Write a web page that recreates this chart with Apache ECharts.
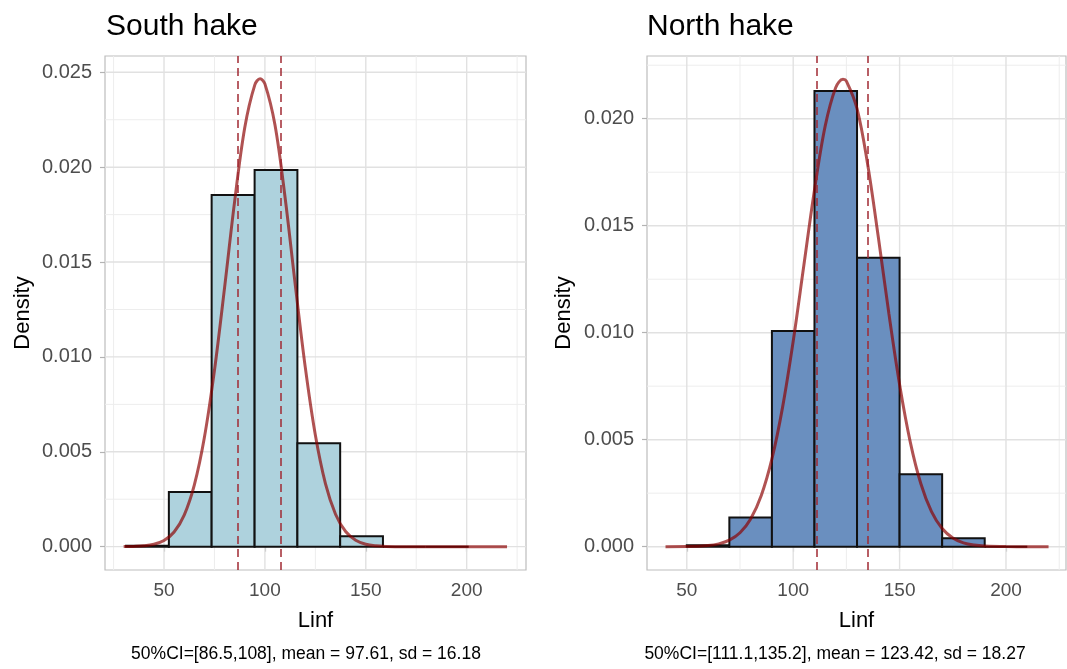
<!DOCTYPE html>
<html>
<head>
<meta charset="utf-8">
<script src="https://cdn.jsdelivr.net/npm/echarts@6/dist/echarts.min.js"></script>
<style>
  html, body { margin: 0; padding: 0; background: #ffffff; }
  #chart { width: 1067px; height: 669px; }
</style>
</head>
<body>
<div id="chart"></div>
<script>
// ---- South hake: Linf histogram (density scale) ----
const southEdges = [31.2, 52.4, 73.6, 94.9, 116.1, 137.3, 158.5, 179.7, 201.0];
const southDensity = [0.00005, 0.00288, 0.01853, 0.01985, 0.00545, 0.00055, 0, 0];
// fitted normal curve (x, density)
const southCurveX = [30, 35, 40, 45, 50, 55, 60, 65, 70, 75, 80, 85, 90, 95, 97.6, 100, 105, 110, 115, 120, 125, 130, 135, 140, 145, 150, 155, 160, 170, 180, 190, 200, 210, 220];
const southCurveY = [0.000004, 0.000015, 0.000043, 0.000125, 0.000325, 0.00077, 0.00166, 0.00324, 0.00575, 0.00929, 0.01364, 0.0182, 0.02208, 0.02434, 0.02466, 0.02439, 0.02222, 0.0184, 0.01384, 0.00946, 0.00588, 0.00332, 0.00171, 0.000797, 0.000338, 0.00013, 0.000046, 0.000015, 0.000001, 0, 0, 0, 0, 0];
const southCI = [86.5, 108];
const southCaption = '50%CI=[86.5,108], mean = 97.61, sd = 16.18';

// ---- North hake ----
const northEdges = [50, 70, 90, 110, 130, 150, 170, 190, 210];
const northDensity = [0.00007, 0.00136, 0.01008, 0.02129, 0.0135, 0.00339, 0.00039, 0];
const northCurveX = [40, 50, 60, 65, 70, 75, 80, 85, 90, 95, 100, 105, 110, 115, 120, 123.4, 125, 130, 135, 140, 145, 150, 155, 160, 165, 170, 175, 180, 185, 190, 200, 210, 220];
const northCurveY = [0.000001, 0.000007, 0.000053, 0.000131, 0.000304, 0.000651, 0.001295, 0.002393, 0.0041, 0.00651, 0.0096, 0.01314, 0.01667, 0.01964, 0.02146, 0.02184, 0.02176, 0.02047, 0.01786, 0.01447, 0.01087, 0.00758, 0.0049, 0.00294, 0.00164, 0.000847, 0.000406, 0.00018, 0.000075, 0.000029, 0.000004, 0, 0];
const northCI = [111.1, 135.2];
const northCaption = '50%CI=[111.1,135.2], mean = 123.42, sd = 18.27';

// tick labels and grid lines
const xMajor = [50, 100, 150, 200];
const xMinor = [25, 75, 125, 175, 225];
const southYMajor = [0, 0.005, 0.01, 0.015, 0.02, 0.025];
const southYMinor = [0.0025, 0.0075, 0.0125, 0.0175, 0.0225];
const northYMajor = [0, 0.005, 0.01, 0.015, 0.02];
const northYMinor = [0.0025, 0.0075, 0.0125, 0.0175, 0.0225];

const panels = [
  { left: 105, width: 421, xMin: 20.75, xMax: 229.4, yMin: -0.00123, yMax: 0.02586,
    edges: southEdges, dens: southDensity, cx: southCurveX, cy: southCurveY, ci: southCI,
    yMajor: southYMajor, yMinor: southYMinor, fill: '#aed2dd' },
  { left: 647, width: 419, xMin: 31.3, xMax: 228.2, yMin: -0.00109, yMax: 0.02293,
    edges: northEdges, dens: northDensity, cx: northCurveX, cy: northCurveY, ci: northCI,
    yMajor: northYMajor, yMinor: northYMinor, fill: '#6a8fbf' }
];

const TOP = 56, HEIGHT = 514;
const tickColor = '#b3b3b3';
const labelColor = '#4d4d4d';
const curveColor = 'rgba(139,0,0,0.68)';
const font = 'Liberation Sans, Arial, sans-serif';

const grid = [], xAxis = [], yAxis = [], series = [];

panels.forEach((p, i) => {
  grid.push({ left: p.left, top: TOP, width: p.width, height: HEIGHT,
    show: true, borderColor: '#bdbdbd', borderWidth: 1.2, backgroundColor: '#ffffff' });

  xAxis.push({ type: 'value', gridIndex: i, min: p.xMin, max: p.xMax,
    axisLine: { show: false }, splitLine: { show: false },
    axisTick: { show: true, length: 5, customValues: xMajor, lineStyle: { color: tickColor, width: 1.2 } },
    axisLabel: { customValues: xMajor, color: labelColor, fontSize: 19, margin: 11, fontFamily: font } });

  yAxis.push({ type: 'value', gridIndex: i, min: p.yMin, max: p.yMax,
    axisLine: { show: false }, splitLine: { show: false },
    axisTick: { show: true, length: 5, customValues: p.yMajor, lineStyle: { color: tickColor, width: 1.2 } },
    axisLabel: { customValues: p.yMajor, color: labelColor, fontSize: 20, margin: 13, fontFamily: font,
      formatter: v => v.toFixed(3) } });

  // panel grid lines (minor then major), drawn beneath the bars
  const gridLines = [];
  xMinor.forEach(v => gridLines.push([0, v, 0]));
  p.yMinor.forEach(v => gridLines.push([1, v, 0]));
  xMajor.forEach(v => gridLines.push([0, v, 1]));
  p.yMajor.forEach(v => gridLines.push([1, v, 1]));
  series.push({ type: 'custom', xAxisIndex: i, yAxisIndex: i, z: 1, silent: true, data: gridLines,
    clip: true,
    renderItem: (params, api) => {
      const cs = params.coordSys;
      const dir = api.value(0), v = api.value(1), major = api.value(2);
      let shape;
      if (dir === 0) {
        const x = api.coord([v, 0])[0];
        shape = { x1: x, y1: cs.y, x2: x, y2: cs.y + cs.height };
      } else {
        const y = api.coord([p.xMin, v])[1];
        shape = { x1: cs.x, y1: y, x2: cs.x + cs.width, y2: y };
      }
      return { type: 'line', shape: shape,
        style: { stroke: major ? '#e1e1e1' : '#ededed', lineWidth: major ? 1.4 : 1 } };
    } });

  // histogram bars
  const bars = p.dens.map((d, k) => [p.edges[k], p.edges[k + 1], d]);
  series.push({ type: 'custom', xAxisIndex: i, yAxisIndex: i, z: 2, data: bars,
    renderItem: (params, api) => {
      const a = api.coord([api.value(0), api.value(2)]);
      const b = api.coord([api.value(1), 0]);
      return { type: 'rect',
        shape: { x: a[0], y: a[1], width: b[0] - a[0], height: b[1] - a[1] },
        style: { fill: p.fill, stroke: '#111111', lineWidth: 2 } };
    } });

  // fitted density curve with CI markers
  series.push({ type: 'line', xAxisIndex: i, yAxisIndex: i, z: 3,
    data: p.cx.map((x, k) => [x, p.cy[k]]),
    showSymbol: false, smooth: 0.35,
    lineStyle: { color: curveColor, width: 3 },
    markLine: { silent: true, symbol: ['none', 'none'], label: { show: false }, animation: false,
      lineStyle: { color: 'rgba(160,40,50,0.75)', width: 2, type: [8, 5] },
      data: p.ci.map(v => ({ xAxis: v })) } });
});

function txt(x, y, text, size, extra) {
  return Object.assign({ type: 'text', x: x, y: y, silent: true,
    style: { text: text, fontSize: size, fill: '#000000', fontFamily: font,
      align: 'center', verticalAlign: 'middle' } }, extra || {});
}
function title(x, text) {
  return { type: 'text', x: x, y: 27, silent: true,
    style: { text: text, fontSize: 30, fill: '#000000', fontFamily: font, align: 'left', verticalAlign: 'middle' } };
}

const graphic = [
  title(106, 'South hake'),
  title(647, 'North hake'),
  txt(23, 313, 'Density', 22, { rotation: Math.PI / 2 }),
  txt(564, 313, 'Density', 22, { rotation: Math.PI / 2 }),
  txt(315.5, 621, 'Linf', 22),
  txt(856.5, 621, 'Linf', 22),
  txt(306, 654, southCaption, 17.5),
  txt(835, 654, northCaption, 17.5)
];

const chart = echarts.init(document.getElementById('chart'), null, { renderer: 'canvas' });
chart.setOption({ animation: false, backgroundColor: '#ffffff', grid, xAxis, yAxis, series, graphic });
</script>
</body>
</html>
